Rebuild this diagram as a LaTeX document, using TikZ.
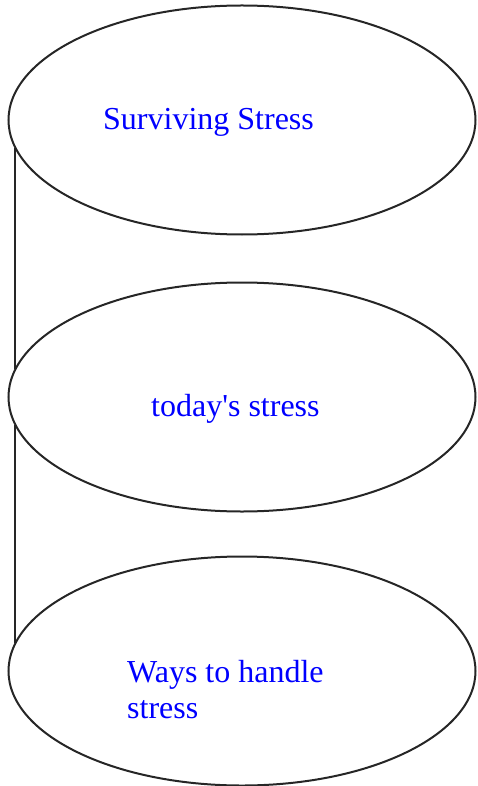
\documentclass[tikz,border=0pt]{standalone}
\usepackage{fontspec}
\setmainfont{Liberation Serif}
\usetikzlibrary{shapes.geometric}
\begin{document}
\begin{tikzpicture}[x=1pt,y=-1pt,
  blob/.style={draw=black!85,line width=2pt,ellipse,minimum width=467pt,minimum height=229pt,inner sep=0pt},
  lbl/.style={text=blue,font=\fontsize{32}{36}\selectfont,anchor=base west,inner sep=0pt,align=left},
  link/.style={draw=black!85,line width=2pt}]
\useasboundingbox (0,0) rectangle (477,786);
\node[blob] (e1) at (242,120) {};
\node[blob] (e2) at (242,397) {};
\node[blob] (e3) at (242,671) {};
\node[lbl] (t1) at (103,130) {Surviving Stress};
\node[lbl] (t2) at (151,416) {today\textquotesingle s stress};
\node[lbl] (t3) at (127,718) {Ways to handle\\stress};
\coordinate (a1) at (15,148);
\coordinate (b1) at (15,369);
\coordinate (a2) at (15,425);
\coordinate (b2) at (15,643);
\draw[link] (a1) -- (b1);
\draw[link] (a2) -- (b2);
\end{tikzpicture}
\end{document}
